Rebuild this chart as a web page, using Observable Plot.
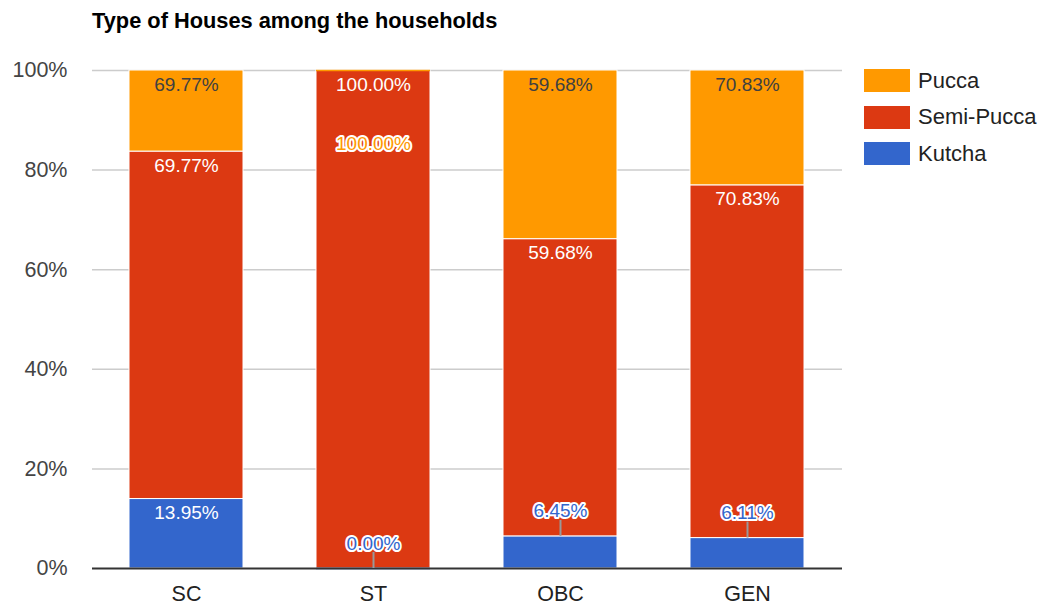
<!DOCTYPE html>
<html><head><meta charset="utf-8">
<script src="https://cdn.jsdelivr.net/npm/d3@7"></script>
<script src="https://cdn.jsdelivr.net/npm/@observablehq/plot@0.6"></script>
<style>
body{margin:0;background:#fff;font-family:"Liberation Sans",Arial,sans-serif;}
#wrap{position:relative;width:1043px;height:605px;}
#title{position:absolute;left:92px;top:10px;font-weight:bold;font-size:21.8px;line-height:21px;color:#000;white-space:nowrap;}
#chart{position:absolute;left:0;top:0;}
#legend{position:absolute;left:864px;top:69px;}
.item{position:absolute;left:0;display:flex;align-items:center;height:23px;white-space:nowrap;font-size:22px;color:#222;}
.sw{width:46px;height:23px;margin-right:8px;}
</style></head><body>
<div id="wrap"><div id="chart"></div><div id="title"></div><div id="legend"></div></div>
<script>
const title = "Type of Houses among the households";
const categories = ["SC", "ST", "OBC", "GEN"];
const seriesNames = ["Pucca", "Semi-Pucca", "Kutcha"];
const seriesColors = ["#ff9900", "#dc3912", "#3366cc"];
const kutcha = [13.95, 0, 6.45, 6.11];
const semiPucca = [69.77, 100, 59.68, 70.83];
const pucca = [16.28, 0, 33.87, 23.06];
const kutchaLabels = ["13.95%", "0.00%", "6.45%", "6.11%"];
const semiPuccaLabels = ["69.77%", "100.00%", "59.68%", "70.83%"];
const puccaLabels = ["69.77%", "100.00%", "59.68%", "70.83%"];
const kutchaOutside = [false, true, true, true];
const semiPuccaOutside = [false, false, false, false];
const puccaOutside = [false, true, false, false];
const yTicks = [0, 20, 40, 60, 80, 100];

document.getElementById("title").textContent = title;

const stackOrder = [
  ["Kutcha", kutcha, kutchaLabels, kutchaOutside],
  ["Semi-Pucca", semiPucca, semiPuccaLabels, semiPuccaOutside],
  ["Pucca", pucca, puccaLabels, puccaOutside]
];
const rows = [];
categories.forEach((cat, i) => {
  let base = 0;
  for (const [type, vals, labs, outs] of stackOrder) {
    const v = vals[i];
    rows.push({cat, type, y1: base, y2: base + v, label: labs[i], outside: outs[i]});
    base += v;
  }
});

const colorOf = Object.fromEntries(seriesNames.map((n, i) => [n, seriesColors[i]]));
const font = 19;

const chart = Plot.plot({
  width: 1043,
  height: 605,
  marginLeft: 92,
  marginRight: 201,
  marginTop: 70,
  marginBottom: 37,
  style: {fontFamily: '"Liberation Sans", Arial, sans-serif', fontSize: "21px", background: "white", color: "#444"},
  x: {domain: categories, paddingInner: 0.39, paddingOuter: 0.195, label: null},
  y: {domain: [0, 100], label: null},
  color: {domain: seriesNames, range: seriesColors},
  marks: [
    Plot.ruleY(yTicks.filter(t => t > 0), {stroke: "#cccccc", strokeWidth: 1.5}),
    Plot.barY(rows.filter(d => d.y2 > d.y1), {x: "cat", y1: "y1", y2: "y2", fill: "type", stroke: "white", strokeWidth: 1}),
    Plot.tickY(rows.filter(d => d.y2 === d.y1), {x: "cat", y: "y2", stroke: "type", strokeWidth: 1.5}),
    Plot.ruleY([0], {stroke: "#333", strokeWidth: 2}),
    Plot.axisY({ticks: yTicks, tickSize: 0, tickPadding: 25, tickFormat: d => d + "%", fill: "#444", fontSize: 21.5, label: null}),
    Plot.axisX({tickSize: 0, tickPadding: 17, fill: "#222", fontSize: 21.5, label: null}),
    Plot.text(rows.filter(d => !d.outside && d.type === "Pucca"), {x: "cat", y: "y2", text: "label", dy: 14, fill: "#404040", fontSize: font}),
    Plot.text(rows.filter(d => !d.outside && d.type !== "Pucca"), {x: "cat", y: "y2", text: "label", dy: 14, fill: "white", fontSize: font}),
    Plot.ruleX(rows.filter(d => d.outside && d.type === "Kutcha"), {x: "cat", y1: "y2", y2: "y2", insetBottom: 16, stroke: "#999", strokeWidth: 2}),
    Plot.text(rows.filter(d => d.outside && d.type === "Kutcha"), {x: "cat", y: "y2", text: "label", dy: -25, fill: colorOf["Kutcha"], stroke: "white", strokeWidth: 4, fontSize: font}),
    Plot.text(rows.filter(d => d.outside && d.type === "Pucca"), {x: "cat", y: "y2", text: "label", dy: 73, fill: colorOf["Pucca"], stroke: "white", strokeWidth: 4, fontSize: font})
  ]
});
document.getElementById("chart").appendChild(chart);

const legend = document.getElementById("legend");
seriesNames.forEach((name, i) => {
  const item = document.createElement("div");
  item.className = "item";
  item.style.top = (i * 36.6) + "px";
  const sw = document.createElement("div");
  sw.className = "sw";
  sw.style.background = seriesColors[i];
  const t = document.createElement("span");
  t.textContent = name;
  item.appendChild(sw);
  item.appendChild(t);
  legend.appendChild(item);
});
</script>
</body></html>
